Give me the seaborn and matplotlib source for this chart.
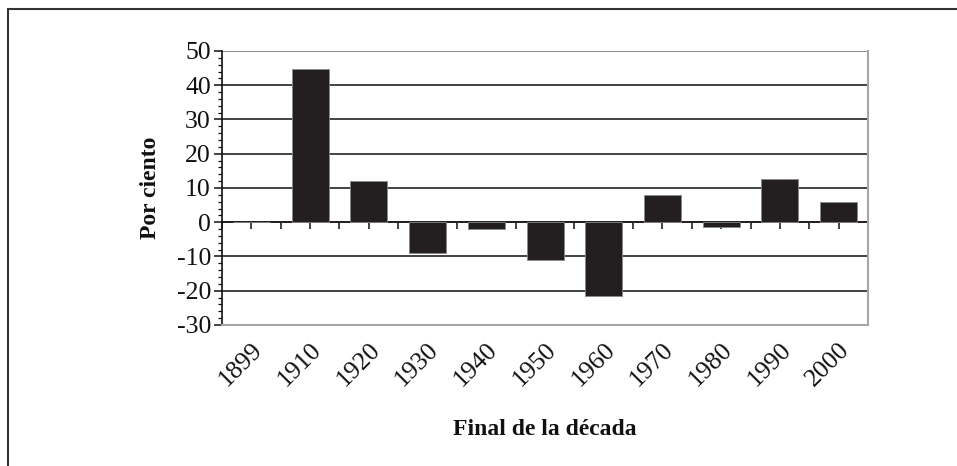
import matplotlib
matplotlib.use("Agg")
import matplotlib.pyplot as plt
from matplotlib.lines import Line2D
from matplotlib.ticker import MultipleLocator
import seaborn as sns
import numpy as np
import pandas as pd

# Cambio porcentual por década
decades = ['1899', '1910', '1920', '1930', '1940', '1950',
           '1960', '1970', '1980', '1990', '2000']
values = [0, 44.8, 11.9, -9.0, -1.9, -10.9, -21.5, 8.0, -1.4, 12.7, 6.0]

y_ticks = [-30, -20, -10, 0, 10, 20, 30, 40, 50]


def make_chart():
    sns.set_theme(style="white")
    plt.rcParams['font.family'] = ['Liberation Serif', 'DejaVu Serif']
    plt.rcParams['axes.unicode_minus'] = False

    df = pd.DataFrame({'decade': decades, 'pct': values})

    fig = plt.figure(figsize=(9.57, 4.66), dpi=100)
    ax = fig.add_axes([0.232, 0.3026, 0.675, 0.588])

    sns.barplot(data=df, x='decade', y='pct', order=decades, ax=ax,
                color='#231f20', saturation=1, width=0.63,
                edgecolor='#8a8a8a', linewidth=0.6, zorder=3)

    ax.set_xlim(-0.5, len(decades) - 0.5)
    ax.set_ylim(-30, 50)
    ax.set_yticks(y_ticks)
    ax.yaxis.set_minor_locator(MultipleLocator(2))

    # horizontal grid lines (black)
    for v in y_ticks[1:]:
        ax.axhline(v, color='#222222' if v < 50 else '#777777',
                   lw=1.2, zorder=1)

    # spines
    ax.spines['top'].set_visible(False)
    ax.spines['left'].set_color('#111111')
    ax.spines['left'].set_linewidth(1.2)
    ax.spines['bottom'].set_color('#a6a6a6')
    ax.spines['right'].set_color('#a6a6a6')
    ax.spines['bottom'].set_linewidth(1.5)
    ax.spines['right'].set_linewidth(1.5)

    ax.tick_params(axis='y', which='major', direction='out', length=6,
                   width=1.1, color='#111111', left=True, labelsize=18.5,
                   pad=2, labelcolor='#111111')
    ax.tick_params(axis='y', which='minor', direction='out', length=3,
                   width=0.9, color='#111111', left=True)
    ax.tick_params(axis='x', length=0, labelsize=18.5, pad=10,
                   labelcolor='#111111')
    plt.setp(ax.get_xticklabels(), rotation=45, ha='right',
             rotation_mode='anchor')

    # category axis drawn through zero
    zero_pos = (0 - (-30)) / 80
    sec = ax.secondary_xaxis(zero_pos)
    sec.set_xticks(np.arange(-0.5, len(decades), 0.5))
    sec.tick_params(direction='out', length=5, width=1.1,
                    color='#111111', labelbottom=False, labeltop=False)
    sec.spines['bottom'].set_color('#111111')
    sec.spines['bottom'].set_linewidth(1.3)

    ax.set_xlabel('Final de la década', fontsize=17, fontweight='bold',
                  labelpad=20, color='#111111')
    ax.set_ylabel('Por ciento', fontsize=17, fontweight='bold',
                  labelpad=11, color='#111111')

    # outer frame (left and top edges)
    fig.add_artist(Line2D([8 / 957, 8 / 957], [0, 1 - 9 / 466],
                          transform=fig.transFigure, color='#333333', lw=1.5))
    fig.add_artist(Line2D([8 / 957, 1], [1 - 9 / 466, 1 - 9 / 466],
                          transform=fig.transFigure, color='#333333', lw=1.5))

    fig.savefig('out.png', dpi=100)


if __name__ == "__main__":
    make_chart()
